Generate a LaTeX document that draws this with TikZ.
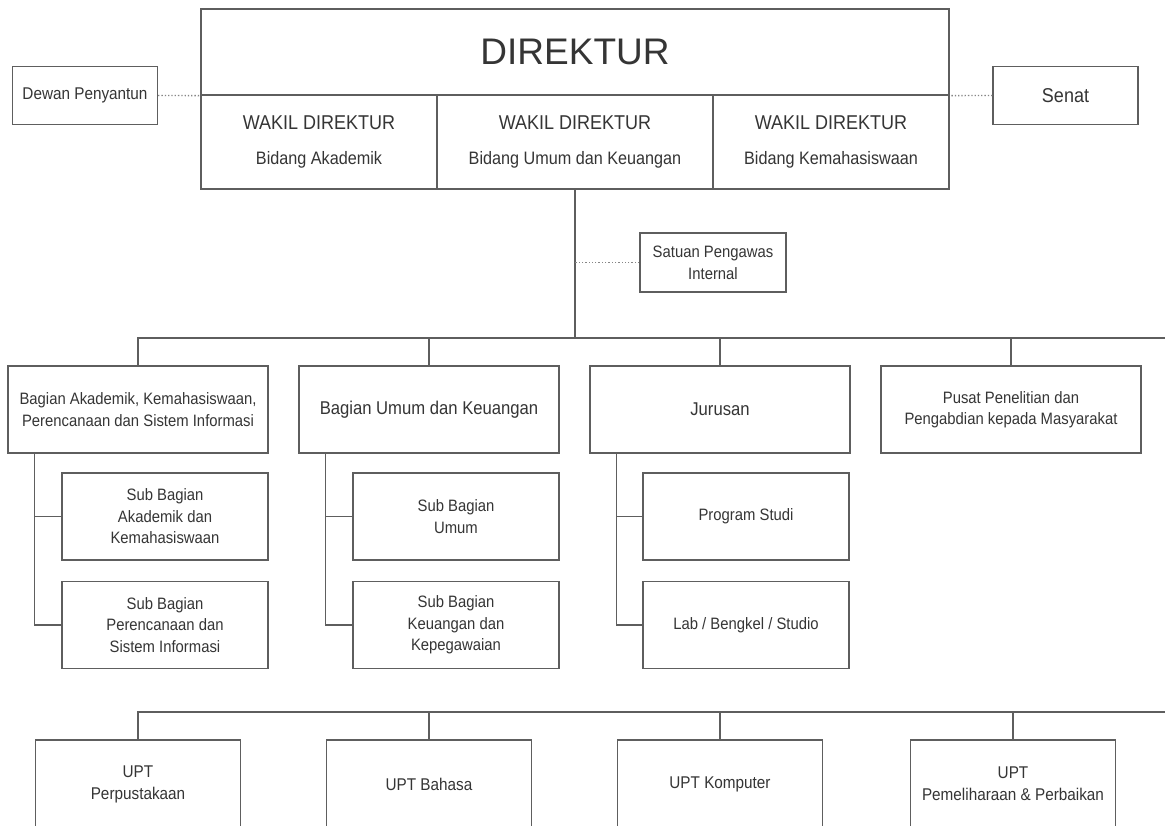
\documentclass[tikz,border=0pt]{standalone}
\usepackage{fontspec}
\setmainfont{Liberation Sans}[FakeStretch=0.9]
\newfontfamily\headfont{Liberation Sans}
\usepackage{tikz}
\usetikzlibrary{positioning}

\definecolor{linegray}{HTML}{5E5E5E}
\definecolor{textgray}{HTML}{353535}

\begin{document}
\begin{tikzpicture}[x=1pt, y=-1pt,
    box/.style={draw=linegray, line width=1.3pt, rectangle, align=center, inner sep=0pt,
        text=textgray, font=\fontsize{16.5}{21.5}\selectfont},
    wakil/.style={box, minimum height=94, font=\fontsize{18}{35}\selectfont},
    side/.style={box, minimum width=145, minimum height=58},
    unit/.style={box, minimum width=260, minimum height=87},
    sub/.style={box, minimum width=206, minimum height=87},
    upt/.style={box, minimum width=205, minimum height=88, font=\fontsize{17}{22}\selectfont},
    link/.style={draw=linegray, line width=1.3pt},
    dots/.style={draw=linegray!75, line width=1.3pt, dotted}]

% Page frame
\clip (0,0) rectangle (1165,825);
\fill[white] (0,0) rectangle (1165,825);

% Director block
\node[box, minimum width=748, minimum height=86, font=\headfont\fontsize{37}{40}\selectfont] (direktur) at (575,52) {DIREKTUR};
\node[wakil, minimum width=236] (wakilA) at (319,142) {{\fontsize{20}{35}\selectfont WAKIL DIREKTUR}\\Bidang Akademik};
\node[wakil, minimum width=276] (wakilB) at (575,142) {{\fontsize{20}{35}\selectfont WAKIL DIREKTUR}\\Bidang Umum dan Keuangan};
\node[wakil, minimum width=236] (wakilC) at (831,142) {{\fontsize{20}{35}\selectfont WAKIL DIREKTUR}\\Bidang Kemahasiswaan};

% Side bodies
\node[side, font=\fontsize{17}{21}\selectfont] (dewan) at (85,95.5) {Dewan Penyantun};
\node[side, font=\fontsize{20}{24}\selectfont] (senat) at (1065.5,95.5) {Senat};
\draw[dots] (dewan.east) -- (direktur.south west);
\draw[dots] (senat.west) -- (direktur.south east);

% Internal audit
\node[side, minimum width=146, minimum height=59, font=\fontsize{16.5}{22}\selectfont] (spi) at (713,262.5) {Satuan Pengawas\\Internal};

% Units
\node[unit] (bagA) at (138,409.5) {Bagian Akademik, Kemahasiswaan,\\Perencanaan dan Sistem Informasi};
\node[unit, font=\fontsize{18.5}{22}\selectfont] (bagB) at (429,409.5) {Bagian Umum dan Keuangan};
\node[unit, font=\fontsize{18.5}{22}\selectfont] (jurusan) at (720,409.5) {Jurusan};
\node[unit] (pusat) at (1011,409.5) {Pusat Penelitian dan\\Pengabdian kepada Masyarakat};

% Sub units
\node[sub] (subA1) at (165,516.5) {Sub Bagian\\Akademik dan\\Kemahasiswaan};
\node[sub] (subA2) at (165,625) {Sub Bagian\\Perencanaan dan\\Sistem Informasi};
\node[sub] (subB1) at (456,516.5) {Sub Bagian\\Umum};
\node[sub] (subB2) at (456,625) {Sub Bagian\\Keuangan dan\\Kepegawaian};
\node[sub] (prodi) at (746,516.5) {Program Studi};
\node[sub] (lab) at (746,625) {Lab / Bengkel / Studio};

% UPT row
\foreach \nm/\xc/\txt in {uptA/138/{UPT\\Perpustakaan}, uptB/429/{UPT Bahasa}, uptC/720/{UPT Komputer}, uptD/1013/{UPT\\Pemeliharaan \& Perbaikan}}
{
    \node[upt] (\nm) at (\xc,784) {\txt};
}

% Main bus
\coordinate (busA) at (1165,338);
\draw[link] (wakilB.south) -- (wakilB.south |- busA);
\draw[dots] (spi.west) -- (spi.west -| wakilB.south);
\draw[link] (bagA.north) |- (busA);
\foreach \n in {bagB,jurusan,pusat}
    \draw[link] (\n.north) -- (\n.north |- busA);

% Sub unit spines
\coordinate (spineA) at ([xshift=27pt]bagA.south west);
\coordinate (spineB) at ([xshift=27pt]bagB.south west);
\coordinate (spineC) at ([xshift=27pt]jurusan.south west);
\draw[link] (spineA) |- (subA2.west);
\draw[link] (subA1.west) -- (subA1.west -| spineA);
\draw[link] (spineB) |- (subB2.west);
\draw[link] (subB1.west) -- (subB1.west -| spineB);
\draw[link] (spineC) |- (lab.west);
\draw[link] (prodi.west) -- (prodi.west -| spineC);

% UPT bus
\coordinate (busB) at (1165,712);
\draw[link] (uptA.north) |- (busB);
\foreach \n in {uptB,uptC,uptD}
    \draw[link] (\n.north) -- (\n.north |- busB);

\end{tikzpicture}
\end{document}
